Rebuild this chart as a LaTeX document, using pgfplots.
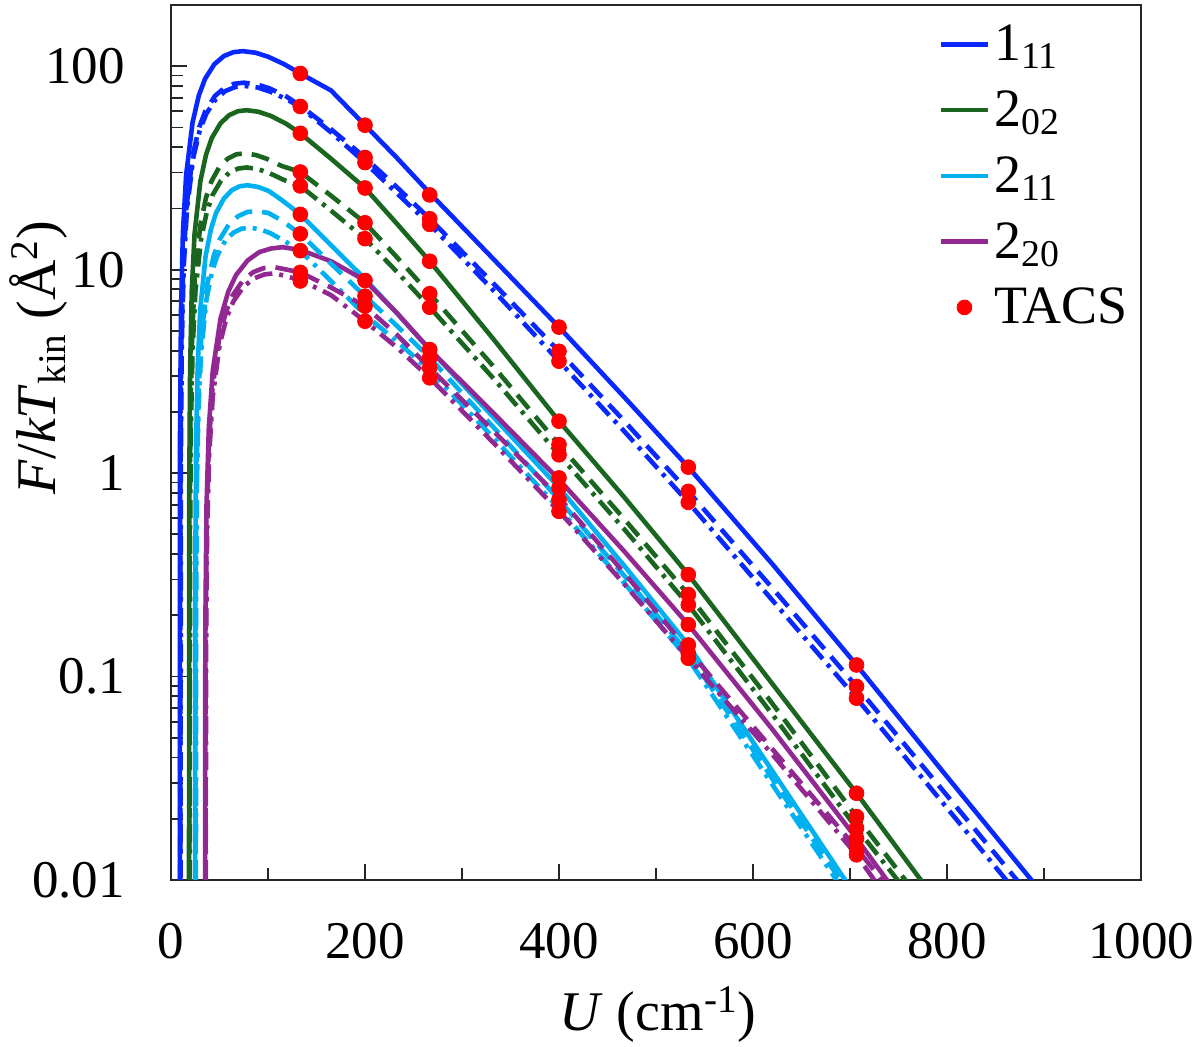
\documentclass[border=0pt]{standalone}
\usepackage{fontspec}
\setmainfont{Liberation Serif}
\usepackage{pgfplots}
\pgfplotsset{compat=1.18}
\definecolor{cB}{RGB}{8,40,255}
\definecolor{cG}{RGB}{26,102,32}
\definecolor{cC}{RGB}{0,176,240}
\definecolor{cP}{RGB}{146,40,146}
\definecolor{cR}{RGB}{255,0,0}
\tikzset{
  solidl/.style={line width=2.3pt, line join=round},
  dashl/.style={line width=2.3pt, line join=round, dash pattern=on 9pt off 5pt},
  dashdotl/.style={line width=2.3pt, line join=round, dash pattern=on 9pt off 3.5pt on 2pt off 3.5pt},
}
\begin{document}
\begin{tikzpicture}
\useasboundingbox (-85.5pt,-83.5pt) rectangle (514.5pt,440pt);
\begin{axis}[
  scale only axis, width=485pt, height=437.5pt,
  at={(0,0)}, anchor=south west,
  xmin=0, xmax=1000, ymode=log, ymin=0.01, ymax=200,
  xtick={0,200,400,600,800,1000}, xticklabels={0,200,400,600,800,1000},
  minor xtick={100,300,500,700,900},
  ytick={0.01,0.1,1,10,100}, yticklabels={0.01,0.1,1,10,100},
  tick align=inside, tick pos=left,
  major tick length=8pt, minor tick length=6pt,
  axis line style={line width=1pt, black!85},
  every tick/.style={black!85, line width=0.9pt},
  tick label style={font=\fontsize{26.5}{31}\selectfont},
  xticklabel style={yshift=-18pt},
  yticklabel style={xshift=-19.5pt},
  xlabel={\textit{U} (cm\textsuperscript{-1})},
  ylabel={\textit{F}/\textit{kT}\textsubscript{kin} (Å\textsuperscript{2})},
  every axis x label/.style={at={(axis description cs:0.502,-0.154)}, anchor=center, font=\fontsize{28}{33}\selectfont},
  every axis y label/.style={at={(axis description cs:-0.137,0.597)}, rotate=90, anchor=center, font=\fontsize{28}{33}\selectfont},
  legend style={draw=none, fill=none, at={(axis description cs:0.791,0.982)}, anchor=north west,
    font=\fontsize{27}{32}\selectfont, row sep=9.5pt, inner sep=0pt, nodes={inner sep=2pt}},
  legend cell align=left,
  legend image code/.code={\draw[#1] (0pt,0pt) -- (23.5pt,0pt);},
]
% solid
\addplot[cB, solidl] coordinates {(9,0.002) (9.33,1.60) (10.32,6.32) (12.3,15.3) (15.6,29.2) (22.2,52.8) (28.6,71.6) (35,86.5) (44.6,102.2) (54.4,112.1) (64.2,117.2) (74,118.6) (87.2,116.5) (100.4,111.2) (116.9,102.2) (133.3,92.1) (165,76) (200,51.3) (233,35.4) (266.7,23.8) (333,11.2) (400,5.22) (467,2.37) (533.3,1.07) (620,0.357) (706.7,0.114) (800,0.0322) (887,0.01) (895,0.0090)};
\addlegendentry{1\textsubscript{11}}
\addplot[cG, solidl] coordinates {(18.5,0.002) (18.8,0.82) (19.7,3.24) (21.4,7.84) (24.3,15.0) (30.2,27.1) (36.1,36.7) (42,44.3) (51,52.4) (60,57.5) (69,60.1) (78,60.8) (90.4,59.7) (102.8,57.0) (118.3,52.3) (133.3,46.8) (165,35.1) (200,25.2) (233,16.8) (266.7,11.0) (333,4.52) (400,1.80) (467,0.764) (533.3,0.317) (620,0.092) (706.7,0.0267) (773,0.01) (780,0.0090)};
\addlegendentry{2\textsubscript{02}}
\addplot[cC, solidl] coordinates {(24.8,0.002) (25.07,0.35) (25.88,1.39) (27.5,3.35) (30.2,6.40) (35.6,11.6) (41.0,15.7) (46.4,19.0) (54.6,22.4) (62.8,24.6) (70.9,25.7) (79,26.0) (89.8,25.5) (100.6,24.4) (114.1,22.0) (133.3,18.7) (165,13.2) (200,9.0) (233,6.1) (266.7,4.05) (333,1.87) (400,0.85) (467,0.352) (533.3,0.143) (620,0.0343) (695,0.01) (702,0.0089)};
\addlegendentry{2\textsubscript{11}}
\addplot[cP, solidl] coordinates {(35,0.002) (35.4,0.174) (36.6,0.69) (39,1.67) (43,3.17) (51,5.74) (59,7.79) (67,9.40) (79,11.1) (91,12.2) (103,12.7) (115,12.9) (133.3,12.5) (165,11.0) (200,8.85) (233,6.12) (266.7,4.05) (333,1.96) (400,0.93) (467,0.414) (533.3,0.180) (620,0.055) (706.7,0.0160) (738,0.01) (746,0.0089)};
\addlegendentry{2\textsubscript{20}}
% dashed and dash-dot
\addplot[cB, dashl, forget plot] coordinates {(9.4,0.002) (9.73,1.12) (10.7,4.42) (12.7,10.7) (16,20.4) (22.6,36.9) (29.1,50.1) (35.6,60.5) (45.4,71.5) (55.3,78.4) (65.1,82.0) (75,83.0) (88.2,81.5) (101.4,77.9) (117.9,71.5) (133.3,64) (165,49) (200,35.6) (233,25.4) (266.7,17.8) (333,8.5) (400,3.97) (467,1.81) (533.3,0.813) (620,0.272) (706.7,0.0894) (790,0.0297) (872,0.01) (880,0.0089)};
\addplot[cB, dashdotl, forget plot] coordinates {(9.8,0.002) (10.13,1.08) (11.1,4.26) (13.1,10.3) (16.4,19.7) (23,35.6) (29.6,48.3) (36.3,58.3) (46.2,69.0) (56.2,75.6) (66.1,79.0) (76,80) (89.2,78.6) (102.4,75.0) (118.9,68.9) (133.3,63.0) (165,47.3) (200,33.6) (233,23.7) (266.7,16.7) (333,7.85) (400,3.55) (467,1.61) (533.3,0.718) (620,0.237) (706.7,0.0783) (785,0.0276) (861,0.01) (870,0.0088)};
\addplot[cG, dashl, forget plot] coordinates {(18.9,0.002) (19.19,0.50) (20.06,1.99) (21.8,4.81) (24.6,9.18) (30.3,16.6) (36,22.5) (41.7,27.2) (50.2,32.2) (58.8,35.2) (67.4,36.9) (76,37.3) (87.6,36.6) (99.2,35.0) (113.7,32.4) (133.3,30.2) (165,23.1) (200,17.0) (233,11.5) (266.7,7.62) (333,3.32) (400,1.38) (467,0.597) (533.3,0.253) (620,0.0736) (706.7,0.0205) (757,0.01) (765,0.0089)};
\addplot[cG, dashdotl, forget plot] coordinates {(19.3,0.002) (19.6,0.43) (20.5,1.69) (22.3,4.10) (25.2,7.82) (31,14.2) (36.9,19.2) (42.7,23.2) (51.6,27.4) (60.3,30.1) (69.2,31.4) (78,31.8) (89.8,31.2) (101.6,29.8) (116.4,27.6) (133.3,25.8) (165,19.5) (200,14.2) (233,9.75) (266.7,6.54) (333,2.90) (400,1.23) (467,0.532) (533.3,0.225) (620,0.0651) (706.7,0.0180) (749,0.01) (757,0.0089)};
\addplot[cC, dashl, forget plot] coordinates {(25.2,0.002) (25.51,0.26) (26.44,1.03) (28.3,2.50) (31.4,4.77) (37.7,8.63) (44,11.7) (50.3,14.1) (59.7,16.7) (69.1,18.3) (78.5,19.2) (88,19.4) (100.4,19.0) (112.8,17.6) (133.3,15.0) (165,10.7) (200,7.41) (233,5.29) (266.7,3.69) (333,1.67) (400,0.741) (467,0.314) (533.3,0.130) (620,0.0314) (690,0.01) (697,0.0089)};
\addplot[cC, dashdotl, forget plot] coordinates {(25.6,0.002) (25.87,0.22) (26.68,0.86) (28.3,2.08) (31.1,3.96) (36.6,7.16) (42.1,9.72) (47.7,11.7) (56,13.9) (64.3,15.2) (72.6,15.9) (81,16.1) (91.8,15.8) (102.6,15.1) (116.1,13.9) (133.3,12.4) (165,8.78) (200,6.0) (233,4.44) (266.7,3.2) (333,1.48) (400,0.67) (467,0.289) (533.3,0.122) (620,0.0294) (686,0.01) (693,0.0089)};
\addplot[cP, dashl, forget plot] coordinates {(35.4,0.002) (35.75,0.139) (36.8,0.549) (38.9,1.33) (42.5,2.53) (49.6,4.58) (56.7,6.22) (63.8,7.51) (74.4,8.88) (84.9,9.73) (95.5,10.18) (106,10.3) (133.3,9.7) (165,8.17) (200,6.62) (233,4.78) (266.7,3.29) (333,1.60) (400,0.76) (467,0.324) (533.3,0.135) (620,0.044) (706.7,0.0143) (733,0.01) (741,0.0088)};
\addplot[cP, dashdotl, forget plot] coordinates {(35.8,0.002) (36.15,0.130) (37.2,0.512) (39.4,1.24) (43,2.36) (50.1,4.27) (57.3,5.80) (64.4,7.00) (75.1,8.28) (85.8,9.07) (96.4,9.48) (107,9.6) (133.3,8.9) (165,7.5) (200,5.58) (233,4.14) (266.7,2.94) (333,1.40) (400,0.649) (467,0.286) (533.3,0.123) (620,0.0414) (706.7,0.0133) (725,0.01) (733,0.0088)};
% TACS
\addplot[only marks, mark=*, mark size=3.7pt, mark options={draw=cR, fill=cR},
  legend image code/.code={\fill[cR] (11.75pt,0pt) circle (3.7pt);}] coordinates {
 (133.3,92.1) (133.3,63.4) (133.3,46.8) (133.3,30.2) (133.3,25.8) (133.3,18.7) (133.3,15.0) (133.3,12.4) (133.3,9.7) (133.3,8.8)
 (200,51.3) (200,35.6) (200,33.6) (200,25.2) (200,17.0) (200,14.2) (200,8.85) (200,7.41) (200,6.62) (200,5.58)
 (266.7,23.3) (266.7,17.8) (266.7,16.7) (266.7,11.0) (266.7,7.62) (266.7,6.54) (266.7,4.05) (266.7,3.69) (266.7,3.29) (266.7,2.94)
 (400,5.22) (400,3.97) (400,3.55) (400,1.80) (400,1.38) (400,1.23) (400,0.947) (400,0.846) (400,0.741) (400,0.649)
 (533.3,1.07) (533.3,0.813) (533.3,0.718) (533.3,0.317) (533.3,0.253) (533.3,0.225) (533.3,0.180) (533.3,0.143) (533.3,0.130) (533.3,0.123)
 (706.7,0.114) (706.7,0.0894) (706.7,0.0783) (706.7,0.0267) (706.7,0.0205) (706.7,0.0180) (706.7,0.0160) (706.7,0.0143) (706.7,0.0133)
};
\addlegendentry{TACS}
\end{axis}
\end{tikzpicture}
\end{document}
